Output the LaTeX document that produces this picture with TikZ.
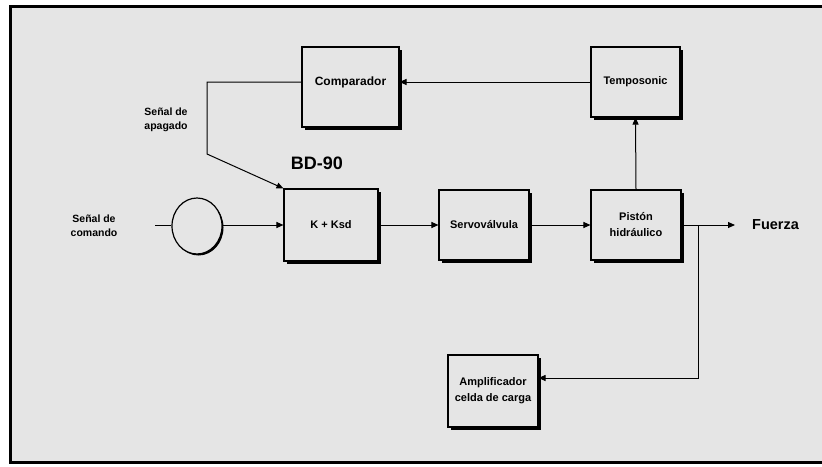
\documentclass[tikz,border=0pt]{standalone}
\usepackage{fontspec}
\setmainfont{Liberation Sans}
\usetikzlibrary{arrows.meta,shadows,shapes.geometric,calc}
\definecolor{bg}{gray}{0.9}
\begin{document}
\begin{tikzpicture}[x=1pt,y=-1pt,
  blk/.style={draw=black, line width=1.1pt, fill=bg, minimum width=90pt, minimum height=70pt,
    inner sep=0pt, align=center, font=\fontsize{11}{16}\selectfont\bfseries,
    drop shadow={shadow xshift=3pt, shadow yshift=-3pt, fill=black, opacity=1}},
  circ/.style={ellipse, draw=black, line width=1.2pt, fill=bg, minimum width=50pt, minimum height=56pt,
    inner sep=0pt, drop shadow={shadow xshift=1.5pt, shadow yshift=-1.5pt, fill=black, opacity=1}},
  lbl/.style={align=center, inner sep=0pt, font=\fontsize{10.5}{14}\selectfont\bfseries},
  arr/.style={line width=1pt, -{Triangle[length=7pt,width=6pt]}},
  con/.style={line width=1pt}]
\useasboundingbox (0,0) rectangle (822,466);
\fill[white] (0,0) rectangle (822,466);
\fill[bg] (10.5,6.5) rectangle (822,462.5);
\draw[line width=3.5pt, line join=miter] (822,6.5) -- (10.5,6.5) -- (10.5,462.5) -- (822,462.5);

% blocks
\node[blk, minimum width=97pt, minimum height=80pt, font=\fontsize{12}{14}\selectfont\bfseries] (cmp) at (350.5,87) {\raisebox{12pt}{Comparador}};
\node[blk, minimum width=89pt] (tmp) at (635.5,82) {Temposonic};
\node[blk, minimum width=94pt, minimum height=72pt] (kk) at (331,225) {K + Ksd};
\node[blk] (srv) at (484,225) {Servoválvula};
\node[blk] (pis) at (636,225) {Pistón\\hidráulico};
\node[blk, minimum height=72pt] (amp) at (493,391) {Amplificador\\celda de carga};
\node[circ] (cir) at (197,226) {};

% labels
\node[lbl] (apg) at (166,120) {Señal de\\apagado};
\node[lbl] (cmd) at (94,226) {Señal de\\comando};
\node[inner sep=0pt, font=\fontsize{18}{20}\selectfont\bfseries] (bd) at (317,163) {BD-90};
\node[anchor=west, inner sep=0pt, font=\fontsize{14.5}{16}\selectfont\bfseries] (fz) at (752,225) {Fuerza};

% coordinates
\coordinate (c1) at (207,82);
\coordinate (c2) at (207,154);
\coordinate (in) at (155,225);
\coordinate (br) at (698,225);

% connectors
\draw[arr] (tmp.west) -- (tmp.west -| cmp.east);
\draw[arr] (cmp.west |- tmp.west) -- (c1) -- (c2) -- (kk.north west);
\draw[con] (in) -- (in -| cir.west);
\draw[arr] (in -| cir.east) -- (kk.west);
\draw[arr] (kk.east) -- (srv.west);
\draw[arr] (srv.east) -- (pis.west);
\draw[arr] (pis.east) -- ([xshift=-17pt]fz.west);
\draw[arr] (pis.north) -- (tmp.south);
\draw[arr] (br) |- ([yshift=13pt]amp.east);
\end{tikzpicture}
\end{document}
